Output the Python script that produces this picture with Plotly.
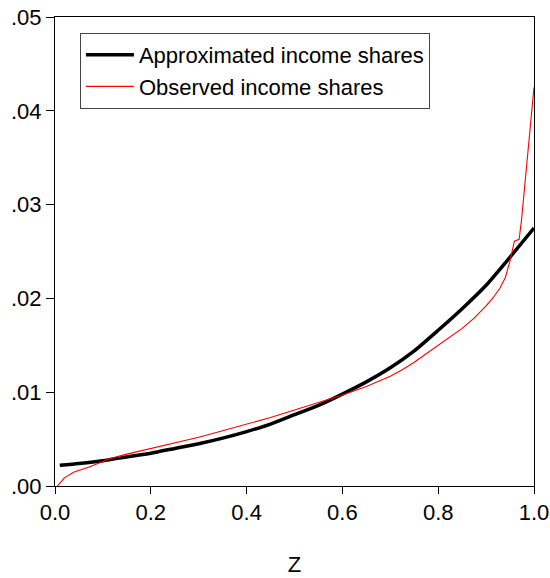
import plotly.graph_objects as go

# Approximated income shares (black, thick)
z_approx = [0.01, 0.05, 0.10, 0.15, 0.20, 0.25, 0.30, 0.35, 0.40, 0.45, 0.50,
            0.55, 0.60, 0.65, 0.70, 0.75, 0.80, 0.85, 0.90, 0.95, 1.00]
approx = [0.0022, 0.0024, 0.0027, 0.0031, 0.0035, 0.0040, 0.0045, 0.0051, 0.0058,
          0.0066, 0.0076, 0.0086, 0.0098, 0.0111, 0.0126, 0.0144, 0.0166, 0.0189,
          0.0214, 0.0244, 0.0275]

# Observed income shares (red, thin)
z_obs = [0.005, 0.01, 0.02, 0.04, 0.07, 0.10, 0.113, 0.15, 0.20, 0.25, 0.30, 0.35,
         0.40, 0.45, 0.50, 0.55, 0.60, 0.65, 0.70, 0.725, 0.75, 0.775, 0.80, 0.825,
         0.85, 0.875, 0.90, 0.915, 0.929, 0.94, 0.95, 0.959, 0.969, 0.974, 1.00]
observed = [0.0000, 0.0003, 0.0009, 0.0015, 0.0020, 0.0026, 0.0029, 0.0034, 0.0040,
            0.0046, 0.0052, 0.0059, 0.0066, 0.0073, 0.0081, 0.0089, 0.0097, 0.0106,
            0.0117, 0.0124, 0.0132, 0.0141, 0.0150, 0.0159, 0.0168, 0.0179, 0.0192,
            0.0201, 0.0211, 0.0222, 0.0240, 0.0261, 0.0263, 0.0284, 0.0425]

y_tickvals = [0.00, 0.01, 0.02, 0.03, 0.04, 0.05]
y_ticktext = [".00", ".01", ".02", ".03", ".04", ".05"]
x_tickvals = [0.0, 0.2, 0.4, 0.6, 0.8, 1.0]
x_ticktext = ["0.0", "0.2", "0.4", "0.6", "0.8", "1.0"]

FONT = "Arial, Liberation Sans, sans-serif"
FS = 22

fig = go.Figure()
fig.add_trace(go.Scatter(x=z_approx, y=approx, mode="lines",
                         name="Approximated income shares",
                         line=dict(color="black", width=3.5, shape="spline", smoothing=0.6)))
fig.add_trace(go.Scatter(x=z_obs, y=observed, mode="lines",
                         name="Observed income shares",
                         line=dict(color="red", width=1.1)))

fig.update_layout(
    width=550, height=578,
    margin=dict(l=55, r=16, t=17, b=92, autoexpand=False),
    paper_bgcolor="white", plot_bgcolor="white",
    font=dict(family=FONT, size=FS, color="black"),
    showlegend=True,
    legend=dict(x=0.052, y=0.966, xanchor="left", yanchor="top",
                bgcolor="white", bordercolor="#444", borderwidth=1,
                font=dict(size=FS, family=FONT), itemwidth=48,
                tracegroupgap=0),
    xaxis=dict(range=[0, 1], tickvals=x_tickvals, ticktext=x_ticktext,
               automargin=False, ticklabeloverflow="allow",
               showgrid=False, zeroline=False, showline=True, linecolor="black",
               linewidth=1, mirror=True, ticks="outside", ticklen=7,
               tickcolor="black",
               title=dict(text="Z", standoff=32, font=dict(size=FS))),
    yaxis=dict(range=[0, 0.05], tickvals=y_tickvals, ticktext=y_ticktext,
               automargin=False, ticklabeloverflow="allow",
               showgrid=False, zeroline=False, showline=True, linecolor="black",
               linewidth=1, mirror=True, ticks="outside", ticklen=8,
               tickcolor="black"),
)

fig.write_html(
    "out.html",
    config={"displayModeBar": False},
    post_script="document.body.style.margin='0';document.body.style.overflow='hidden';",
)
